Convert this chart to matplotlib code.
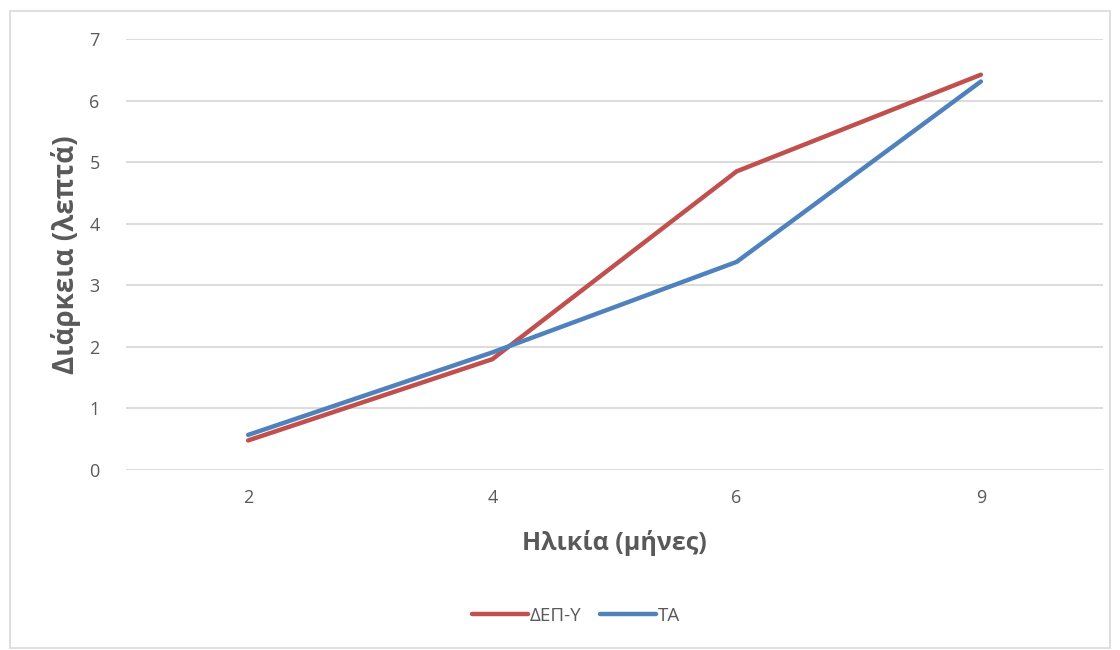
import matplotlib.pyplot as plt
from matplotlib.patches import Rectangle

# data
ages = ['2', '4', '6', '9']
adhd = [0.48, 1.80, 4.85, 6.42]
ta = [0.57, 1.91, 3.38, 6.31]
series_names = ['ΔΕΠ-Υ', 'ΤΑ']
colors = ['#C0504D', '#4F81BD']

plt.rcParams['font.family'] = ['Open Sans', 'DejaVu Sans']

fig = plt.figure(figsize=(11.2, 6.5), dpi=100)
W, H = 1120, 650
ax = fig.add_axes([126 / W, 1 - 470 / H, (1103 - 126) / W, (470 - 39) / H])

x = list(range(len(ages)))
ax.plot(x, adhd, color=colors[0], lw=3.2, solid_capstyle='round', solid_joinstyle='miter', label=series_names[0], zorder=3)
ax.plot(x, ta, color=colors[1], lw=3.2, solid_capstyle='round', solid_joinstyle='miter', label=series_names[1], zorder=3)

ax.set_xlim(-0.5, len(ages) - 0.5)
ax.set_ylim(0, 7)
ax.set_xticks(x)
ax.set_xticklabels(ages)
ax.set_yticks(range(0, 8))
ax.yaxis.grid(True, color='#D9D9D9', lw=1.3)
ax.set_axisbelow(True)
for s in ax.spines.values():
    s.set_visible(False)
ax.tick_params(length=0, labelsize=13, colors='#595959')
ax.tick_params(axis='y', pad=19)
ax.tick_params(axis='x', pad=14)

ax.set_xlabel('Ηλικία (μήνες)', fontsize=18, fontweight='bold', color='#595959', labelpad=16)
ax.set_ylabel('Διάρκεια (λεπτά)', fontsize=20, fontweight='bold', color='#595959', labelpad=6)

fig.legend(loc='center', bbox_to_anchor=(576 / W, 1 - 616 / H), ncol=2, frameon=False,
           fontsize=13.5, handlelength=3.0, handletextpad=0.1, columnspacing=1.0,
           labelcolor='#595959')

fig.patches.append(Rectangle((10 / W, 2 / H), 1100 / W, 637 / H, transform=fig.transFigure,
                             fill=False, edgecolor='#D9D9D9', lw=1.2))

plt.savefig('out.png', dpi=100)
plt.close()
